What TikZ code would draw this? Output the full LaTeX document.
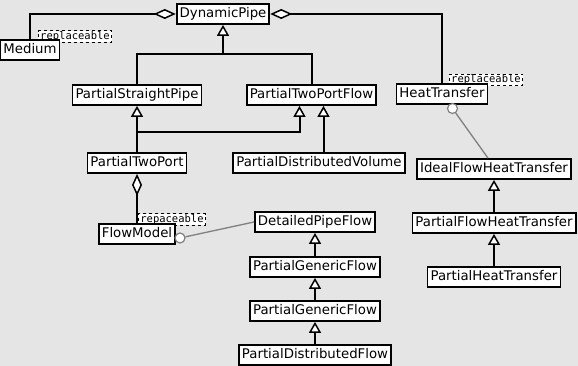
\documentclass[tikz,border=0pt]{standalone}
\usepackage{fontspec}
\setmainfont{DejaVu Sans}
\setmonofont{DejaVu Sans Mono}
\usetikzlibrary{arrows.meta}
\definecolor{bgcol}{RGB}{229,229,229}
\definecolor{lollcol}{RGB}{128,128,128}

\begin{document}
\begin{tikzpicture}[x=1pt,y=-1pt,
    cls/.style={draw, fill=white, line width=1.8pt, font=\fontsize{13.3}{15}\selectfont,
      inner xsep=3pt, inner ysep=4pt, text height=9.5pt, text depth=2.5pt},
    tag/.style={draw, dashed, fill=white, line width=1.4pt, font=\fontsize{10.5}{12}\ttfamily,
      inner xsep=2pt, inner ysep=1.5pt, text height=7pt, text depth=1.5pt},
    inherit/.style={line width=2pt, -{Triangle[fill=white,length=11pt,width=12pt,line width=1.5pt]}},
    aggr/.style={line width=2pt, -{Diamond[fill=white,length=22pt,width=10pt,line width=1.5pt]}},
    realize/.style={draw=lollcol, line width=1.3pt},
    lolly/.style={circle, draw=lollcol, fill=white, line width=1.2pt, minimum size=10pt, inner sep=0pt}]
  \useasboundingbox[fill=bgcol] (0,0) rectangle (578,366);

  % replaceable tags
  \node[tag] (mediumtag) at (75,36.5) {replaceable};
  \node[tag] (heattag) at (486,80) {replaceable};
  \node[tag] (flowtag) at (172,219.5) {repaceable};

  % classes
  \node[cls] (dynpipe) at (223,14) {DynamicPipe};
  \node[cls] (medium) at (30,50) {Medium};
  \node[cls] (straight) at (137,95) {PartialStraightPipe};
  \node[cls] (twoportflow) at (311.5,95) {PartialTwoPortFlow};
  \node[cls] (heat) at (442,94) {HeatTransfer};
  \node[cls] (twoport) at (137,163) {PartialTwoPort};
  \node[cls] (distvol) at (319,163) {PartialDistributedVolume};
  \node[cls] (flowmodel) at (137,234) {FlowModel};
  \node[cls] (detailed) at (315,222) {DetailedPipeFlow};
  \node[cls] (genericA) at (315,267) {PartialGenericFlow};
  \node[cls] (genericB) at (315,311) {PartialGenericFlow};
  \node[cls] (distflow) at (315,355) {PartialDistributedFlow};
  \node[cls] (idealheat) at (494,169) {IdealFlowHeatTransfer};
  \node[cls] (flowheat) at (494,223) {PartialFlowHeatTransfer};
  \node[cls] (partheat) at (494,277) {PartialHeatTransfer};

  % aggregation
  \draw[aggr] (medium.north) |- (dynpipe.west);
  \draw[aggr] (heat.north) |- (dynpipe.east);
  \draw[aggr] (flowmodel.north) -- (flowmodel.north |- twoport.south);

  % inheritance
  \coordinate (dpj) at (dynpipe.south |- 0,54);
  \draw[line width=2pt] (straight.north) |- (dpj) -| (twoportflow.north);
  \draw[inherit] (dpj) -- (dynpipe.south);
  \draw[inherit] (twoport.north) -- (twoport.north |- straight.south);
  \coordinate (tpj) at (twoport.north |- 0,132);
  \coordinate (tpfl) at ([xshift=-12pt]twoportflow.south);
  \coordinate (tpfr) at ([xshift=12pt]twoportflow.south);
  \draw[inherit] (tpj) -| (tpfl);
  \draw[inherit] (distvol.north -| tpfr) -- (tpfr);
  \draw[inherit] (genericA) -- (detailed);
  \draw[inherit] (genericB) -- (genericA);
  \draw[inherit] (distflow) -- (genericB);
  \draw[inherit] (flowheat) -- (idealheat);
  \draw[inherit] (partheat) -- (flowheat);

  % realisation lollipops
  \node[lolly] (flowlolly) at (180,238) {};
  \draw[realize] (flowlolly) -- (detailed.west);
  \node[lolly] (heatlolly) at (452.5,108.5) {};
  \draw[realize] (heatlolly) -- ([xshift=-6pt]idealheat.north);
\end{tikzpicture}
\end{document}
